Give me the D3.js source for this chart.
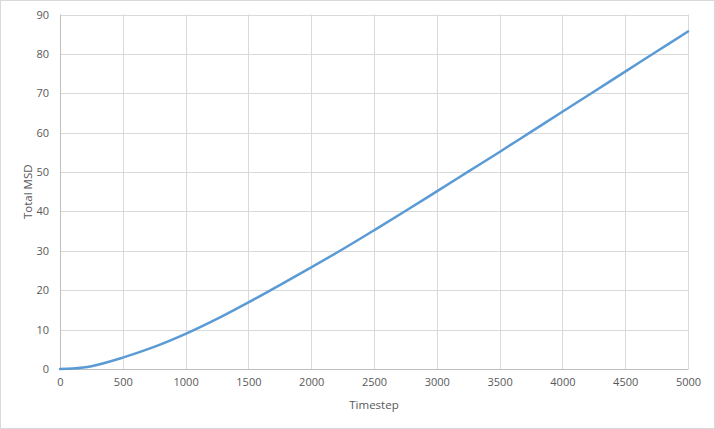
<!DOCTYPE html>
<html>
<head>
<meta charset="utf-8">
<script src="https://cdn.jsdelivr.net/npm/d3@7"></script>
<style>
  html, body { margin: 0; padding: 0; background: #fff; }
  svg { display: block; }
  text { font-family: "Open Sans", "Liberation Sans", sans-serif; fill: #595959; }
</style>
</head>
<body>
<svg id="chart" width="715" height="429"></svg>
<script>
// Data
const timesteps = [0, 100, 250, 500, 750, 1000, 1250, 1500, 1750, 2000, 2250, 2500, 2750, 3000, 3250, 3500, 3750, 4000, 4250, 4500, 4750, 5000];
const totalMSD  = [0, 0.1, 0.7, 2.9, 5.6, 8.9, 12.7, 16.9, 21.3, 25.8, 30.4, 35.2, 40.1, 45.1, 50.1, 55.1, 60.2, 65.3, 70.4, 75.5, 80.6, 85.7];
const xTicks = [0, 500, 1000, 1500, 2000, 2500, 3000, 3500, 4000, 4500, 5000];
const yTicks = [0, 10, 20, 30, 40, 50, 60, 70, 80, 90];
const xTitle = "Timestep";
const yTitle = "Total MSD";

const svg = d3.select("#chart");
const W = 715, H = 429;
const plot = { left: 60, right: 688, top: 14.5, bottom: 369 };

// Outer chart border
svg.append("rect")
  .attr("x", 0.5).attr("y", 0.5)
  .attr("width", W - 1).attr("height", H - 1)
  .attr("fill", "#fff").attr("stroke", "#D9D9D9").attr("stroke-width", 1);

const x = d3.scaleLinear().domain([0, 5000]).range([plot.left, plot.right]);
const y = d3.scaleLinear().domain([0, 90]).range([plot.bottom, plot.top]);

// Gridlines
const grid = svg.append("g").attr("stroke", "#D9D9D9").attr("stroke-width", 1);
grid.selectAll("line.h").data(yTicks).join("line")
  .attr("x1", plot.left).attr("x2", plot.right)
  .attr("y1", d => Math.round(y(d)) + 0.5).attr("y2", d => Math.round(y(d)) + 0.5);
grid.selectAll("line.v").data(xTicks).join("line")
  .attr("y1", plot.top).attr("y2", plot.bottom)
  .attr("x1", d => Math.round(x(d)) + 0.5).attr("x2", d => Math.round(x(d)) + 0.5);

// Axes (labels only, Excel style)
const xAxis = d3.axisBottom(x).tickValues(xTicks).tickSize(0).tickPadding(9).tickFormat(d3.format("d"));
const gx = svg.append("g").attr("transform", `translate(0,${plot.bottom})`).call(xAxis);
gx.select(".domain").attr("stroke", "#BFBFBF");
gx.selectAll("text").attr("font-size", "11px").attr("fill", "#595959");

const yAxis = d3.axisLeft(y).tickValues(yTicks).tickSize(0).tickPadding(11).tickFormat(d3.format("d"));
const gy = svg.append("g").attr("transform", `translate(${plot.left},0)`).call(yAxis);
gy.select(".domain").attr("stroke", "#BFBFBF");
gy.selectAll("text").attr("font-size", "11px").attr("fill", "#595959");
svg.selectAll(".tick text").style("font-family", '"Open Sans", "Liberation Sans", sans-serif');

// Axis titles
svg.append("text")
  .attr("x", (plot.left + plot.right) / 2).attr("y", 409)
  .attr("text-anchor", "middle").attr("font-size", "11.5px")
  .text(xTitle);
svg.append("text")
  .attr("transform", `translate(32,${(plot.top + plot.bottom) / 2}) rotate(-90)`)
  .attr("text-anchor", "middle").attr("font-size", "11.5px")
  .text(yTitle);

// Line
const line = d3.line()
  .x((d, i) => x(timesteps[i]))
  .y(d => y(d))
  .curve(d3.curveCatmullRom.alpha(0.5));
svg.append("path")
  .datum(totalMSD)
  .attr("fill", "none")
  .attr("stroke", "#5B9BD5")
  .attr("stroke-width", 2.5)
  .attr("stroke-linecap", "round")
  .attr("d", line);
</script>
</body>
</html>
